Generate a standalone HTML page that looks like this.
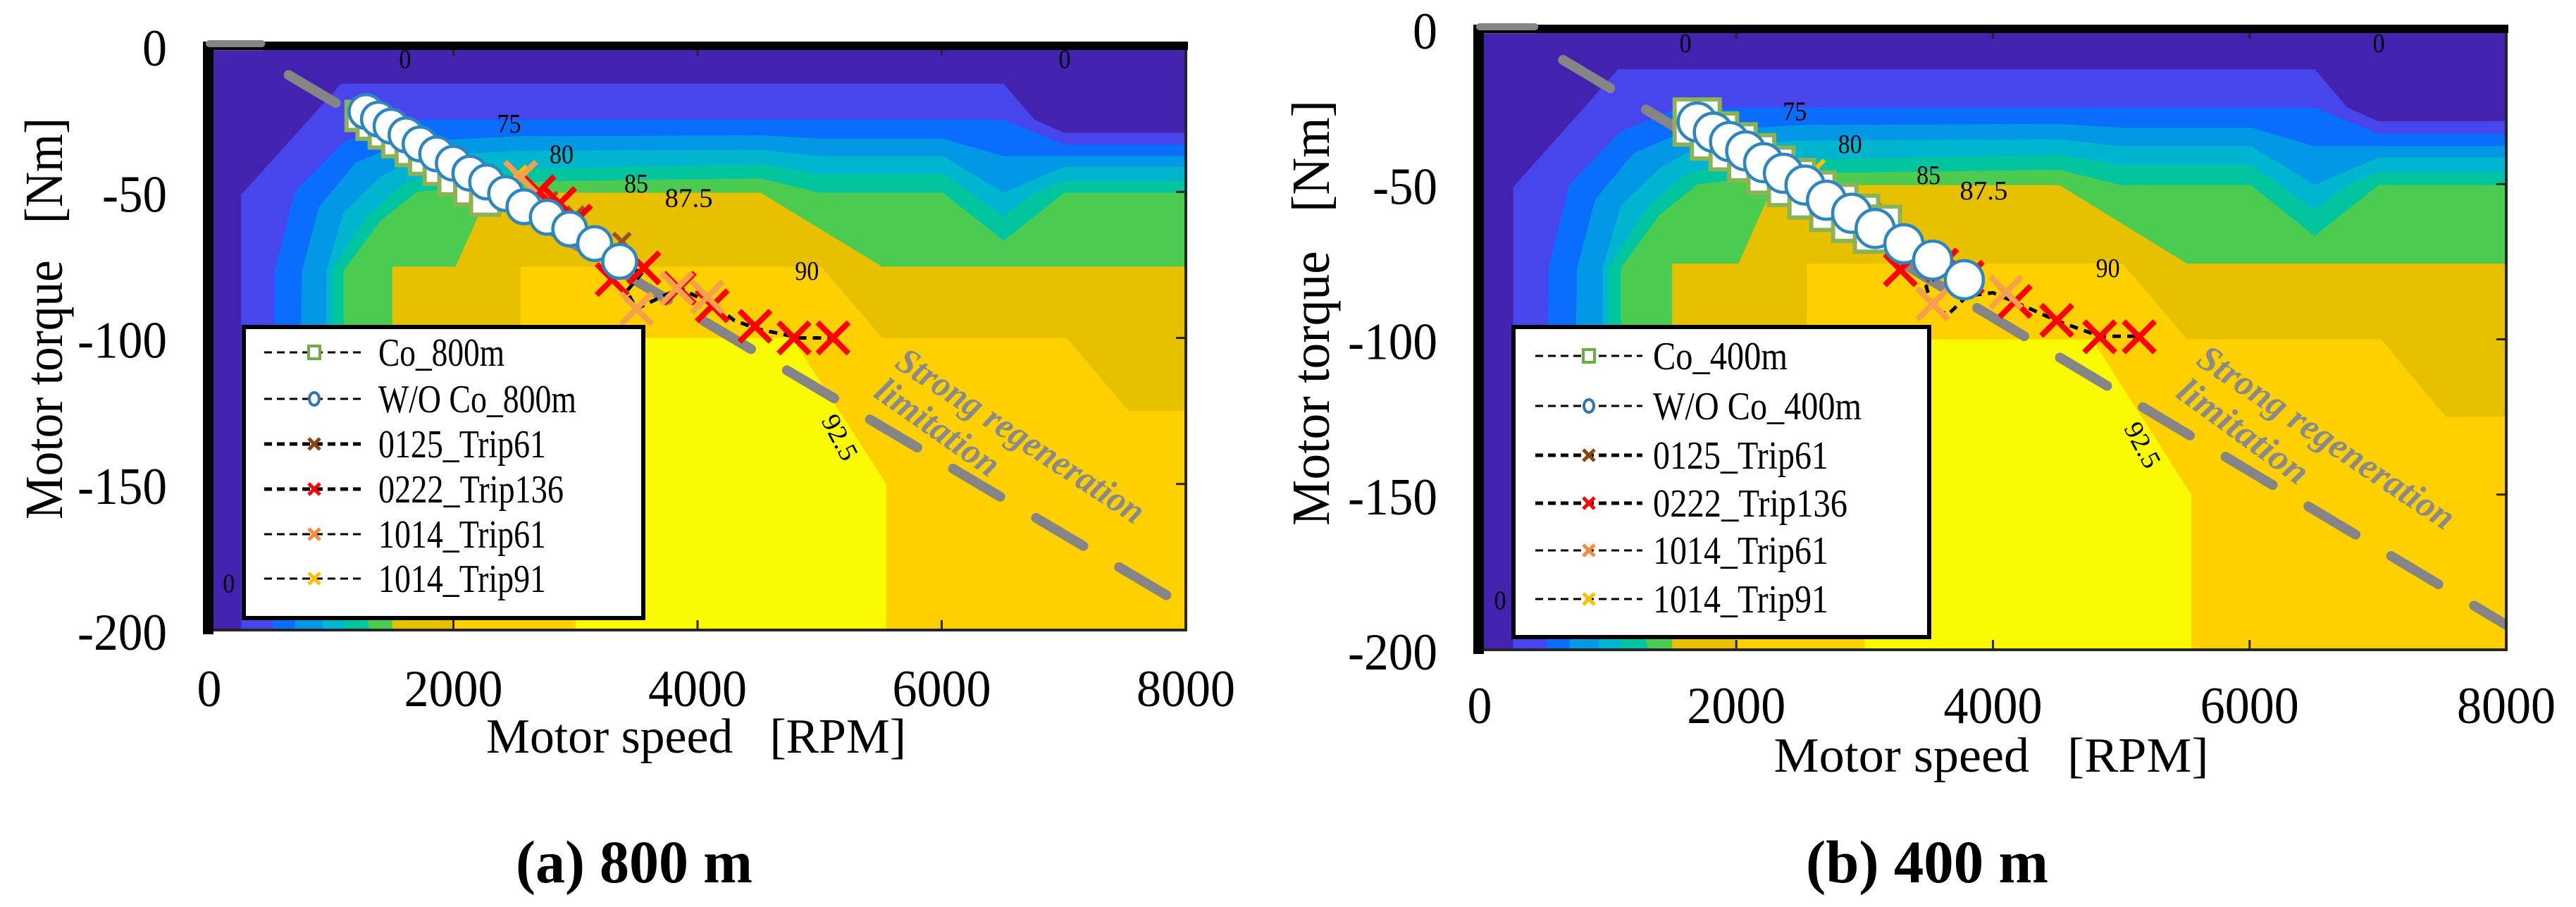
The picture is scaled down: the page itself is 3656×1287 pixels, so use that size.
<!DOCTYPE html>
<html><head><meta charset="utf-8"><style>
html,body{margin:0;padding:0;background:#fff;}
svg{display:block;font-family:"Liberation Serif","DejaVu Serif",serif;}
</style></head><body>
<svg id="fig" width="3656" height="1287" viewBox="0 0 3656 1287" xmlns="http://www.w3.org/2000/svg">
<rect x="0" y="0" width="3656" height="1287" fill="#fff"/>
</svg>
<script>
// ---- data: contour levels (motor speed rpm, torque Nm) ----
const levelColors = ["#4646EC","#0A6EFD","#0398E6","#00B5CF","#00C59E","#4BCB4F","#E7C000","#FFD000","#F9F900"];
const level2 = [[261,-200],[261,-51],[1080,-13],[6507,-13],[6762,-25.3],[7005,-29.8],[8000,-29.8],[8000,-200]];
const level3 = [[521,-200],[535,-77],[700,-50],[1100,-33],[1556,-25.3],[6507,-25.3],[7005,-33.8],[8000,-33.8],[8000,-200]];
const level4 = [[700,-200],[760,-77],[900,-55],[1200,-40],[1600,-33],[2500,-31],[4517,-30.6],[5001,-31.8],[6010,-31.8],[6507,-37.8],[8000,-37.8],[8000,-200]];
const level5 = [[930,-200],[960,-77],[1100,-57],[1400,-45],[1700,-38],[2500,-36],[4517,-35.6],[5001,-37.8],[6010,-37.8],[6507,-50.3],[7005,-41.4],[8000,-41.4],[8000,-200]];
const level6 = [[1108,-200],[1000,-170],[1000,-77],[1300,-58],[1600,-47],[2000,-42.5],[4517,-40.6],[5001,-43.8],[6010,-43.8],[6507,-58.3],[6762,-50.3],[7005,-46.2],[8000,-46.2],[8000,-200]];
const level7 = [[1316,-200],[1100,-170],[1100,-77],[1400,-60],[1700,-50],[2500,-46.5],[4517,-45.4],[5001,-50.3],[6010,-50.3],[6507,-66.7],[7005,-50.3],[8000,-50.3],[8000,-200]];
const level8 = [[1500,-200],[1500,-75.6],[2017,-75.6],[2290,-50.3],[4517,-50.3],[5512,-75.6],[8000,-75.6],[8000,-200]];
const level9 = [[2000,-200],[2000,-150],[2550,-100],[2550,-75.6],[5010,-75.6],[5512,-100],[7026,-100],[7530,-125],[8000,-125],[8000,-200]];
const level10 = [[3000,-200],[3000,-100],[4773,-100],[5546,-150],[5546,-200]];
const contourLabels = ["0","0","0","75","80","85","87.5","90","92.5"];
const contourLabelX = [1604,7007,160,2456,2886,3498,3928,4896,5168];
const contourLabelY = [-4.5,-4.5,-184,-26.5,-37,-47,-52,-77,-134];
const xTicks = [0,2000,4000,6000,8000];
const yTicks = [0,-50,-100,-150,-200];
const legendLabelsA = ["Co_800m","W/O Co_800m","0125_Trip61","0222_Trip136","1014_Trip61","1014_Trip91"];
const legendLabelsB = ["Co_400m","W/O Co_400m","0125_Trip61","0222_Trip136","1014_Trip61","1014_Trip91"];

// panel (a) 800 m series
const coA_x = [1240,1330,1430,1540,1650,1760,1880,2000,2130,2260];
const coA_y = [-24,-27,-30,-33,-36,-39,-42.5,-46,-49.5,-53];
const woA_x = [1284,1386,1489,1612,1727,1863,1999,2135,2272,2428,2578,2769,2953,3157,3362];
const woA_y = [-22.5,-25.1,-27.5,-30.5,-33.6,-37,-40.2,-43.6,-46.6,-50.6,-55.1,-58.7,-62.7,-67.7,-73.8];
const redA_x = [2700,2870,3000,3300,3560,3850,4120,4470,4790,5110];
const redA_y = [-50,-54,-60,-80,-76,-83,-89,-96,-100,-100];
const brownA_x = [2780,3000,3380];
const brownA_y = [-53,-58,-67];
const orangeA_x = [2550,3500,3830,4080];
const orangeA_y = [-45,-90,-83,-86];
const yellowA_x = [2530];
const yellowA_y = [-44];
const pathA_x = [3362,3450,3560,3420,3500,3700,3858,4145,4300,4499,4840,5158];
const pathA_y = [-74,-77,-77,-84,-90,-86,-83,-89,-94,-97,-100,-100];

// panel (b) 400 m series
const coB_x = [1695,1830,1975,2120,2270,2430,2590,2760,2930,3100];
const coB_y = [-30,-34.5,-38,-41.5,-45.5,-49.5,-53.5,-57.5,-61,-64.5];
const woB_x = [1695,1821,1947,2073,2213,2367,2535,2703,2899,3082,3306,3530,3777];
const woB_y = [-30,-33.3,-36.3,-39.3,-43.1,-46.5,-50.3,-55.2,-59.4,-64.3,-69.2,-74.5,-80.8];
const redB_x = [2790,3000,3600,3800,3278,4173,4497,4832,5140];
const redB_y = [-55,-61,-76,-80,-77.6,-87.8,-93.9,-99.2,-99.2];
const brownB_x = [2850,3050,3450];
const brownB_y = [-56,-60,-72];
const orangeB_x = [3050,3531,4102];
const orangeB_y = [-63,-88.6,-84.8];
const yellowB_x = [2620];
const yellowB_y = [-45];
const pathB_x = [3777,3600,3480,3530,3650,3800,4000,4173,4497,4832,5140];
const pathB_y = [-81,-78,-83,-90,-92,-86,-85,-88,-94,-99,-99];

const regenX = [0,430,650,8000];
const regenY = [0,0,-10,-192];

// ---- rendering ----
const NS = "http://www.w3.org/2000/svg";
const svg = document.getElementById("fig");
function mk(tag, attrs, parent){
  const e = document.createElementNS(NS, tag);
  for (const k in attrs) e.setAttribute(k, attrs[k]);
  (parent||svg).appendChild(e);
  return e;
}
function numWidth(s){ let w = 0; for (const c of String(s)) w += (c === "-") ? 22 : 35; return w; }

const panels = [
  {id:"a", x0:297, x1:1683, y0:65, y1:894, co:[coA_x,coA_y], wo:[woA_x,woA_y], red:[redA_x,redA_y], brown:[brownA_x,brownA_y],
   orange:[orangeA_x,orangeA_y], yellow:[yellowA_x,yellowA_y], path:[pathA_x,pathA_y], r:24, sq:20, legend:legendLabelsA,
   leg:{x:346,y:464,w:567,h:413,ys:[500,566,630,694,758,821],lx1:375,lx2:519,mx:446,tx:537,tl:[179,281,238,263,238,238]},
   xtY:1002, xt:{x:988,y:1068,len:596}, yt:{x:88,y:452,len:570}, cap:{x:900,len:336,text:"(a) 800 m"},
   s1:{x:1268,y:520,len:410,rot:33.3}, s2:{x:1238,y:562,len:203,rot:35}},
  {id:"b", x0:2100, x1:3557, y0:41, y1:922, co:[coB_x,coB_y], wo:[woB_x,woB_y], red:[redB_x,redB_y], brown:[brownB_x,brownB_y],
   orange:[orangeB_x,orangeB_y], yellow:[yellowB_x,yellowB_y], path:[pathB_x,pathB_y], r:27, sq:32, legend:legendLabelsB,
   leg:{x:2148,y:464,w:590,h:440,ys:[505,576,646,714,781,850],lx1:2179,lx2:2331,mx:2255,tx:2346,tl:[191,296,249,276,249,249]},
   xtY:1026, xt:{x:2826,y:1095,len:617}, yt:{x:1886,y:444,len:604}, cap:{x:2735,len:344,text:"(b) 400 m"},
   s1:{x:3115,y:516,len:427,rot:33.8}, s2:{x:3086,y:562,len:217,rot:36}}
];

function xMark(g, cx, cy, h, color, w){
  const p = mk("path", {d:`M${cx-h},${cy-h}L${cx+h},${cy+h}M${cx+h},${cy-h}L${cx-h},${cy+h}`, stroke:color, "stroke-width":w, fill:"none"}, g);
  return p;
}

panels.forEach(P => {
  const sx = v => P.x0 + v/8000*(P.x1-P.x0);
  const sy = v => P.y0 + (-v)/200*(P.y1-P.y0);
  const g = mk("g", {});
  
  
  const clipId = "clip" + P.id;
  const defs = mk("defs", {}, g);
  const cp = mk("clipPath", {id:clipId}, defs);
  mk("rect", {x:P.x0, y:P.y0, width:P.x1-P.x0, height:P.y1-P.y0}, cp);
  const plot = mk("g", {"clip-path":`url(#${clipId})`}, g);
  
  
  const bg = mk("rect", {x:P.x0, y:P.y0, width:P.x1-P.x0, height:P.y1-P.y0, fill:"#4222AE"}, plot);
  
  
  const levels = [level2,level3,level4,level5,level6,level7,level8,level9,level10];
  levels.forEach((L, i) => {
    const poly = mk("polygon", {points: L.map(p => sx(p[0]) + "," + sy(p[1])).join(" "), fill: levelColors[i]}, plot);
    
    
  });
  contourLabels.forEach((t, i) => {
    const tx = mk("text", {x:sx(contourLabelX[i]), y:sy(contourLabelY[i]) + 13, "font-size":38, "text-anchor":"middle", fill:"#000", textLength: t.length*17, lengthAdjust:"spacingAndGlyphs"}, plot);
    if (t === "92.5") tx.setAttribute("transform", `rotate(62 ${sx(contourLabelX[i])} ${sy(contourLabelY[i])})`);
    tx.textContent = t;
    
    
  });
  const solid = mk("path", {d:`M${sx(regenX[0])},${sy(regenY[0])}L${sx(regenX[1])},${sy(regenY[1])}`, stroke:"#858585", "stroke-width":13, "stroke-linecap":"round", fill:"none"}, g);
  
  
  const dash = mk("path", {d:`M${sx(regenX[2])},${sy(regenY[2])}L${sx(regenX[3])},${sy(regenY[3])}`, stroke:"#858585", "stroke-width":14, "stroke-linecap":"round", "stroke-dasharray":"78 59", fill:"none"}, plot);
  
  
  const pth = mk("path", {d: P.path[0].map((v,i)=>(i?"L":"M")+sx(v)+","+sy(P.path[1][i])).join(""), stroke:"#000", "stroke-width":5, "stroke-dasharray":"12 9", fill:"none"}, plot);
  
  
  P.brown[0].forEach((v,i) => {
    const m = xMark(plot, sx(v), sy(P.brown[1][i]), 12, "#A0501E", 6);
    
    
  });
  P.yellow[0].forEach((v,i) => {
    const m = xMark(plot, sx(v), sy(P.yellow[1][i]), 12, "#FFC000", 6);
    
    
  });
  P.red[0].forEach((v,i) => {
    const m = xMark(plot, sx(v), sy(P.red[1][i]), 22, "#FF0000", 8);
    
    
  });
  P.orange[0].forEach((v,i) => {
    const m = xMark(plot, sx(v), sy(P.orange[1][i]), 22, "#F6A04D", 8);
    
    
  });
  P.co[0].forEach((v,i) => {
    const s = mk("rect", {x:sx(v)-P.sq, y:sy(P.co[1][i])-P.sq, width:2*P.sq, height:2*P.sq, fill:"#fff", stroke:"#8DB255", "stroke-width":6}, plot);
    
    
  });
  P.wo[0].forEach((v,i) => {
    const c = mk("circle", {cx:sx(v), cy:sy(P.wo[1][i]), r:P.r, fill:"#fff", stroke:"#2E86C1", "stroke-width":4.5}, plot);
    
    
  });
  [[P.s1,"Strong regeneration"],[P.s2,"limitation"]].forEach(a => {
    const t = mk("text", {x:a[0].x, y:a[0].y, "font-size":52, "font-weight":"bold", "font-style":"italic", fill:"#8A8A8A", textLength:a[0].len, lengthAdjust:"spacingAndGlyphs", transform:`rotate(${a[0].rot} ${a[0].x} ${a[0].y})`}, g);
    t.textContent = a[1];
    
    
  });
  const frame = mk("path", {d:`M${P.x0},${P.y1}L${P.x1},${P.y1}L${P.x1},${P.y0}`, stroke:"#262626", "stroke-width":4, fill:"none"}, g);
  
  
  xTicks.forEach(v => {
    const tk = mk("path", {d:`M${sx(v)},${P.y1}L${sx(v)},${P.y1-14}M${sx(v)},${P.y0}L${sx(v)},${P.y0+14}`, stroke:"#262626", "stroke-width":3}, g);
    
    
    const t = mk("text", {x:sx(v), y:P.xtY, "font-size":74, "text-anchor":"middle", textLength:numWidth(v), lengthAdjust:"spacingAndGlyphs"}, g);
    t.textContent = v;
    
    
  });
  yTicks.forEach(v => {
    const tk = mk("path", {d:`M${P.x1},${sy(v)}L${P.x1-14},${sy(v)}`, stroke:"#262626", "stroke-width":3}, g);
    
    
    const t = mk("text", {x:P.x0-60, y:sy(v)+28, "font-size":74, "text-anchor":"end", textLength:numWidth(v), lengthAdjust:"spacingAndGlyphs"}, g);
    t.textContent = v;
    
    
  });
  const lb = mk("rect", {x:P.x0-9, y:P.y0-6, width:15, height:P.y1-P.y0+12, fill:"#000"}, g);
  
  
  const tb = mk("rect", {x:P.x0-9, y:P.y0-6, width:P.x1-P.x0+12, height:12, fill:"#000"}, g);
  
  
  const gs = mk("path", {d:`M${sx(0)},${P.y0-3}L${sx(regenX[1])},${P.y0-3}`, stroke:"#858585", "stroke-width":10, "stroke-linecap":"round"}, g);
  
  
  const xt = mk("text", {x:P.xt.x, y:P.xt.y, "font-size":70, "text-anchor":"middle", textLength:P.xt.len, lengthAdjust:"spacingAndGlyphs"}, g);
  xt.textContent = "Motor speed\u00a0\u00a0\u00a0[RPM]";
  
  
  const yt = mk("text", {x:P.yt.x, y:P.yt.y, "font-size":76, "text-anchor":"middle", textLength:P.yt.len, lengthAdjust:"spacingAndGlyphs", transform:`rotate(-90 ${P.yt.x} ${P.yt.y})`}, g);
  yt.textContent = "Motor torque\u00a0\u00a0\u00a0[Nm]";
  
  
  const cap = mk("text", {x:P.cap.x, y:1252, "font-size":86, "font-weight":"bold", "text-anchor":"middle", textLength:P.cap.len, lengthAdjust:"spacingAndGlyphs"}, g);
  cap.textContent = P.cap.text;
  
  
  const L = P.leg;
  const lg = mk("g", {}, g);
  
  
  const box = mk("rect", {x:L.x, y:L.y, width:L.w, height:L.h, fill:"#fff", stroke:"#000", "stroke-width":6}, lg);
  
  
  const thick = [false,false,true,true,false,false];
  P.legend.forEach((lab, i) => {
    const y = L.ys[i];
    const ln = mk("path", {d:`M${L.lx1},${y}L${L.lx2},${y}`, stroke:"#000", "stroke-width":thick[i]?5:3, "stroke-dasharray":"11 7"}, lg);
    
    
    let m;
    if (i === 0) m = mk("rect", {x:L.mx-8, y:y-9, width:16, height:18, fill:"#fff", stroke:"#6AAE45", "stroke-width":4}, lg);
    else if (i === 1) m = mk("ellipse", {cx:L.mx, cy:y, rx:7, ry:9, fill:"#fff", stroke:"#2E75B6", "stroke-width":4}, lg);
    else m = xMark(lg, L.mx, y, 8, ["#8B4513","#FF0000","#F58B3C","#FFC000"][i-2], 5);
    
    
    const t = mk("text", {x:L.tx, y:y+19, "font-size":56, textLength:L.tl[i], lengthAdjust:"spacingAndGlyphs"}, lg);
    t.textContent = lab;
    
    
  });
});
</script>
</body></html>
